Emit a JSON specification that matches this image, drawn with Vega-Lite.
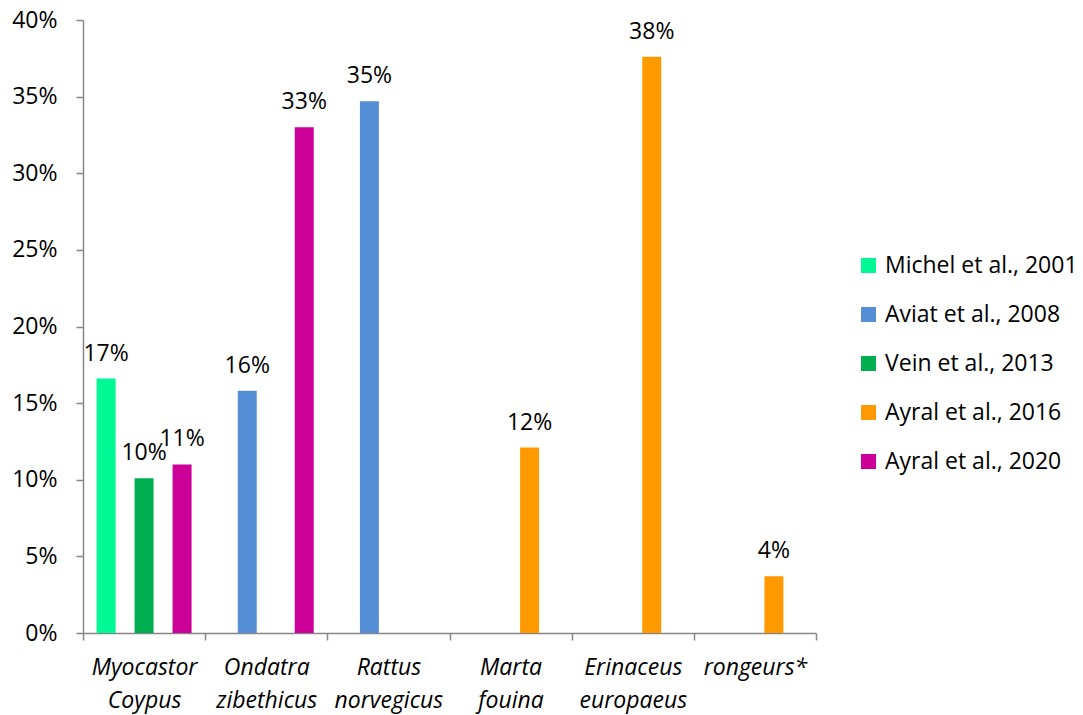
{
  "$schema": "https://vega.github.io/schema/vega-lite/v6.json",
  "width": 733,
  "height": 613,
  "autosize": "none",
  "padding": {"left": 83, "top": 20, "right": 267, "bottom": 82},
  "background": "white",
  "config": {"view": {"stroke": null}, "font": "Open Sans"},
  "data": {
    "values": [
      {"species": "Myocastor Coypus", "study": "Michel et al., 2001", "value": 0.166},
      {"species": "Myocastor Coypus", "study": "Vein et al., 2013", "value": 0.101},
      {"species": "Myocastor Coypus", "study": "Ayral et al., 2020", "value": 0.110},
      {"species": "Ondatra zibethicus", "study": "Aviat et al., 2008", "value": 0.158},
      {"species": "Ondatra zibethicus", "study": "Ayral et al., 2020", "value": 0.330},
      {"species": "Rattus norvegicus", "study": "Aviat et al., 2008", "value": 0.347},
      {"species": "Marta fouina", "study": "Ayral et al., 2016", "value": 0.121},
      {"species": "Erinaceus europaeus", "study": "Ayral et al., 2016", "value": 0.376},
      {"species": "rongeurs*", "study": "Ayral et al., 2016", "value": 0.037}
    ]
  },
  "encoding": {
    "x": {
      "field": "species",
      "type": "nominal",
      "sort": ["Myocastor Coypus", "Ondatra zibethicus", "Rattus norvegicus", "Marta fouina", "Erinaceus europaeus", "rongeurs*"],
      "scale": {"paddingInner": 0, "paddingOuter": 0},
      "axis": {
        "title": null,
        "labelAngle": 0,
        "labelExpr": "split(datum.label, ' ')",
        "labelFontSize": 23,
        "labelFontStyle": "italic",
        "labelColor": "black",
        "labelLineHeight": 33,
        "labelPadding": 16,
        "labelLimit": 300,
        "tickBand": "extent",
        "tickSize": 7,
        "tickColor": "#868686",
        "domainColor": "#868686",
        "tickWidth": 1.5,
        "domainWidth": 1.5
      }
    },
    "xOffset": {
      "field": "study",
      "type": "nominal",
      "scale": {
        "domain": ["Michel et al., 2001", "Aviat et al., 2008", "Vein et al., 2013", "Ayral et al., 2016", "Ayral et al., 2020"],
        "paddingInner": 0,
        "paddingOuter": 0.716
      }
    },
    "y": {
      "field": "value",
      "type": "quantitative",
      "scale": {"domain": [0, 0.4], "nice": false},
      "axis": {
        "title": null,
        "values": [0, 0.05, 0.1, 0.15, 0.2, 0.25, 0.3, 0.35, 0.4],
        "format": ".0%",
        "grid": false,
        "labelFontSize": 23,
        "labelColor": "black",
        "labelPadding": 19,
        "tickSize": 7,
        "tickColor": "#868686",
        "domainColor": "#868686",
        "tickWidth": 1.5,
        "domainWidth": 1.5
      }
    }
  },
  "layer": [
    {
      "mark": {"type": "bar"},
      "encoding": {
        "color": {
          "field": "study",
          "type": "nominal",
          "scale": {
            "domain": ["Michel et al., 2001", "Aviat et al., 2008", "Vein et al., 2013", "Ayral et al., 2016", "Ayral et al., 2020"],
            "range": ["#00F994", "#558ED5", "#00B050", "#FF9900", "#CC0099"]
          },
          "legend": {
            "title": null,
            "orient": "none",
            "legendX": 774,
            "legendY": 234,
            "symbolType": "square",
            "symbolSize": 225,
            "symbolStrokeWidth": 0,
            "symbolOpacity": 1,
            "labelFontSize": 23,
            "labelColor": "black",
            "labelLimit": 300,
            "labelOffset": 5,
            "rowPadding": 25
          }
        }
      }
    },
    {
      "mark": {"type": "text", "dy": -18, "baseline": "alphabetic", "fontSize": 23, "color": "black"},
      "encoding": {"text": {"field": "value", "type": "quantitative", "format": ".0%"}}
    }
  ]
}
